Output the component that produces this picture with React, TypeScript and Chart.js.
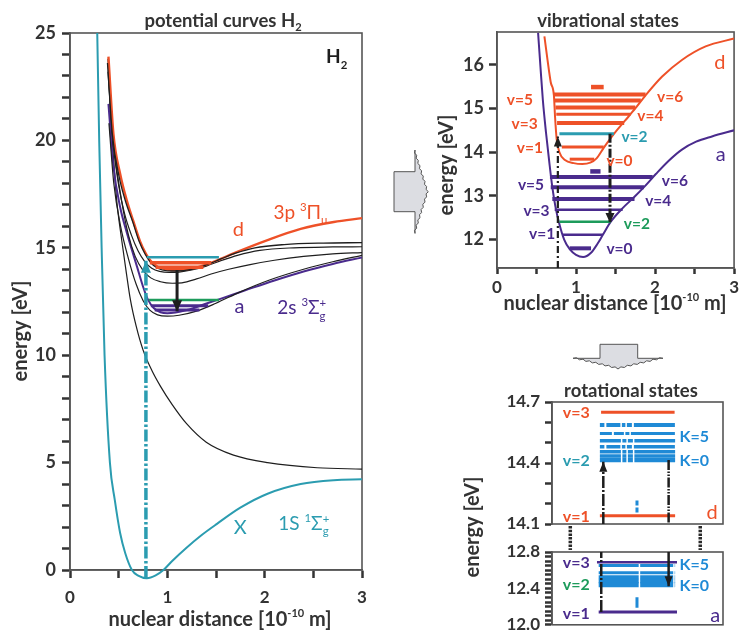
import { useEffect, useRef } from "react";
import { Chart, registerables } from "chart.js";

Chart.register(...registerables);

// ---------- colours & fonts ----------
const RED = "#ee5128";
const TEAL = "#2b9cb0";
const PURPLE = "#4a2b8d";
const GREEN = "#1d9b5b";
const BLUE = "#1f8ad6";
const INK = "#333333";
const BLACK = "#1e1e1e";
const FRAME = "#555555";
const FONT = "Lato, 'Open Sans', 'DejaVu Sans', sans-serif";

// ---------- potential curves H2 (r in 1e-10 m, energy in eV) ----------
const xStateR = [0.28, 0.3, 0.325, 0.355, 0.41, 0.46, 0.515, 0.567, 0.636, 0.7, 0.79, 0.88, 0.96, 1.05, 1.2, 1.35, 1.51, 1.75, 2.03, 2.37, 2.71, 3.0];
const xStateE = [25, 20, 15, 10, 5, 3.26, 1.72, 0.79, 0, -0.26, -0.38, -0.25, 0, 0.42, 1.05, 1.62, 2.15, 2.9, 3.55, 4.0, 4.18, 4.22];

const bStateR = [0.39, 0.42, 0.45, 0.48, 0.53, 0.58, 0.62, 0.68, 0.75, 0.84, 0.93, 1.05, 1.2, 1.4, 1.68, 2.03, 2.54, 3.0];
const bStateE = [23.8, 21.0, 19.0, 17.2, 15.4, 13.8, 12.6, 11.35, 10.25, 9.3, 8.55, 7.7, 6.8, 5.95, 5.35, 5.0, 4.76, 4.7];

const aStateR = [0.395, 0.446, 0.515, 0.584, 0.69, 0.75, 0.8, 0.86, 0.93, 1.0, 1.2, 1.41, 1.53, 1.8, 2.1, 2.4, 2.7, 3.0];
const aStateE = [21.7, 18.8, 16.9, 15.7, 14.1, 13.2, 12.6, 12.2, 12.0, 11.95, 12.1, 12.42, 12.6, 13.02, 13.48, 13.9, 14.25, 14.55];

const dStateR = [0.395, 0.446, 0.515, 0.584, 0.65, 0.72, 0.78, 0.83, 0.9, 1.0, 1.1, 1.25, 1.4, 1.53, 1.68, 2.03, 2.37, 2.71, 3.0];
const dStateE = [23.9, 20.3, 18.45, 17.2, 16.25, 15.3, 14.72, 14.38, 14.12, 13.99, 13.96, 14.03, 14.22, 14.45, 14.74, 15.36, 15.88, 16.2, 16.38];

const k1StateR = [0.385, 0.435, 0.505, 0.575, 0.645, 0.71, 0.77, 0.83, 0.9, 1.0, 1.1, 1.25, 1.4, 1.55, 1.7, 1.9, 2.2, 2.6, 3.0];
const k1StateE = [23.6, 20.3, 18.3, 17.1, 16.2, 15.3, 14.72, 14.3, 14.05, 13.93, 13.92, 14.0, 14.2, 14.48, 14.75, 15.0, 15.15, 15.22, 15.24];

const k2StateR = [0.39, 0.44, 0.5, 0.56, 0.63, 0.7, 0.77, 0.84, 0.92, 1.02, 1.12, 1.25, 1.4, 1.55, 1.72, 1.95, 2.3, 2.7, 3.0];
const k2StateE = [23.2, 20.0, 17.9, 16.6, 15.6, 14.85, 14.35, 14.05, 13.9, 13.85, 13.87, 13.97, 14.15, 14.4, 14.65, 14.88, 15.0, 15.04, 15.05];

const eStateR = [0.4, 0.45, 0.53, 0.6, 0.67, 0.75, 0.83, 0.93, 1.05, 1.15, 1.3, 1.45, 1.63, 1.85, 2.1, 2.4, 2.7, 3.0];
const eStateE = [23.0, 19.8, 17.2, 15.6, 14.6, 13.95, 13.6, 13.42, 13.35, 13.37, 13.55, 13.78, 14.0, 14.22, 14.42, 14.6, 14.72, 14.78];

const cStateR = [0.4, 0.45, 0.52, 0.6, 0.68, 0.75, 0.82, 0.9, 1.0, 1.12, 1.3, 1.5, 1.75, 2.05, 2.4, 2.7, 3.0];
const cStateE = [20.8, 18.0, 16.0, 14.5, 13.3, 12.55, 12.1, 11.88, 11.82, 11.86, 12.05, 12.42, 12.95, 13.5, 14.0, 14.35, 14.65];

// vibrational levels marked in the potential-curve panel
const potLevelE = [14.56, 14.3, 14.1, 12.57, 12.3, 12.1];
const potLevelR0 = [0.79, 0.82, 0.88, 0.81, 0.83, 0.87];
const potLevelR1 = [1.53, 1.45, 1.37, 1.53, 1.42, 1.33];
const potLevelColor = [TEAL, RED, RED, GREEN, PURPLE, PURPLE];
const potLevelWidth = [2.5, 3.5, 3.5, 2.5, 3, 3];

// excitation (X -> d) and decay (d -> a)
const excitationR = 0.78;
const excitationE = [-0.37, 14.4];
const decayR = 1.1;
const decayE = [13.97, 12.05];

// ---------- vibrational states ----------
const dVibR = [0.6, 0.64, 0.68, 0.72, 0.735, 0.755, 0.79, 0.86, 0.97, 1.08, 1.18, 1.26, 1.35, 1.48, 1.62, 1.75, 1.88, 2.09, 2.34, 2.64, 3.0];
const dVibE = [16.65, 16.1, 15.6, 15.3, 14.8, 14.3, 14.0, 13.82, 13.75, 13.73, 13.76, 13.86, 14.1, 14.42, 14.72, 15.0, 15.3, 15.73, 16.11, 16.42, 16.6];

const aVibR = [0.52, 0.55, 0.58, 0.62, 0.66, 0.7, 0.74, 0.79, 0.85, 0.92, 1.0, 1.09, 1.19, 1.27, 1.34, 1.44, 1.59, 1.74, 1.86, 2.01, 2.17, 2.34, 2.52, 2.72, 3.0];
const aVibE = [16.73, 15.95, 15.2, 14.45, 13.8, 13.2, 12.75, 12.35, 12.0, 11.78, 11.65, 11.6, 11.7, 11.9, 12.11, 12.41, 12.72, 12.98, 13.2, 13.5, 13.8, 14.06, 14.24, 14.36, 14.5];

const dLevelE = [13.84, 14.12, 14.42, 14.67, 14.87, 15.02, 15.18, 15.32, 15.49];
const dLevelR0 = [0.92, 0.82, 0.79, 0.76, 0.75, 0.74, 0.73, 0.71, 1.19];
const dLevelR1 = [1.23, 1.35, 1.48, 1.61, 1.69, 1.75, 1.82, 1.88, 1.35];
const dLevelWidth = [3, 3, 3, 4, 3, 4, 4, 4, 4.5];

const aLevelE = [11.8, 12.11, 12.41, 12.68, 12.93, 13.2, 13.43, 13.56];
const aLevelR0 = [0.92, 0.83, 0.79, 0.73, 0.7, 0.68, 0.67, 1.18];
const aLevelR1 = [1.19, 1.34, 1.44, 1.59, 1.74, 1.86, 1.97, 1.31];
const aLevelWidth = [4, 2.5, 2.5, 2.5, 4, 4, 4, 4.5];

const vibUpR = 0.77;
const vibUpE = [11.35, 14.36];
const vibDownR = 1.43;
const vibDownE = [14.42, 12.38];

// ---------- rotational states (u: schematic horizontal position 0..1) ----------
const dV3E = 14.65;
const dV1E = 14.14;
const dKE = [14.415, 14.435, 14.455, 14.48, 14.51, 14.545, 14.587];
const aV3E = 12.686;
const aV1E = 12.14;
const aKE = [12.44, 12.48, 12.523, 12.572, 12.653];
const rotLevelU = [0.28, 0.72];
const rotMarkU = 0.497;
const dMarkE = [14.157, 14.219];
const aMarkE = [12.187, 12.304];
const rotUpU = 0.3;
const rotDownU = 0.682;
const rotUpTipE = 14.406;
const rotDownTipE = 12.425;

// ---------- helpers ----------
type Pt = { x: number; y: number };
const zip = (r: number[], e: number[]): Pt[] => r.map((x, i) => ({ x, y: e[i] }));

function curve(r: number[], e: number[], color: string, width: number, extra: any = {}) {
  return {
    data: zip(r, e),
    showLine: true,
    borderColor: color,
    backgroundColor: color,
    borderWidth: width,
    pointRadius: 0,
    cubicInterpolationMode: "monotone",
    tension: 0.4,
    fill: false,
    ...extra,
  };
}

function seg(r0: number, r1: number, e0: number, e1: number, color: string, width: number, extra: any = {}) {
  return {
    data: [
      { x: r0, y: e0 },
      { x: r1, y: e1 },
    ],
    showLine: true,
    borderColor: color,
    backgroundColor: color,
    borderWidth: width,
    pointRadius: 0,
    tension: 0,
    fill: false,
    borderCapStyle: "butt",
    ...extra,
  };
}

type Run = { t: string; s?: number; dy?: number; stack?: boolean };
type TextItem = {
  runs: Run[];
  size: number;
  color: string;
  weight?: string;
  r?: number;
  e?: number;
  px?: number;
  py?: number;
  align?: "left" | "center" | "right";
  rotate?: number;
};

const sup = (t: string): Run => ({ t, s: 0.6, dy: -0.42 });
const sub = (t: string): Run => ({ t, s: 0.6, dy: 0.3 });
const distanceTitle: Run[] = [{ t: "nuclear distance [10" }, { t: "-10", s: 0.55, dy: -0.45 }, { t: " m]" }];

function drawRuns(ctx: CanvasRenderingContext2D, it: TextItem, x: number, y: number) {
  const { runs, size, color, weight = "normal", align = "center", rotate = 0 } = it;
  ctx.save();
  ctx.translate(x, y);
  if (rotate) ctx.rotate(rotate);
  ctx.fillStyle = color;
  ctx.textBaseline = "alphabetic";
  ctx.textAlign = "left";
  const fonts = runs.map((r) => `${weight} ${size * (r.s ?? 1)}px ${FONT}`);
  const widths = runs.map((r, i) => {
    ctx.font = fonts[i];
    return ctx.measureText(r.t).width;
  });
  const total = runs.reduce((acc, r, i) => acc + (r.stack ? 0 : widths[i]), 0);
  let cx = align === "center" ? -total / 2 : align === "right" ? -total : 0;
  runs.forEach((r, i) => {
    ctx.font = fonts[i];
    ctx.fillText(r.t, cx, size * 0.36 + (r.dy ?? 0) * size);
    if (!r.stack) cx += widths[i];
  });
  ctx.restore();
}

function textPlugin(items: TextItem[]) {
  return {
    id: "textItems",
    afterDraw(chart: any) {
      const { ctx, scales } = chart;
      items.forEach((it) => {
        const x = it.r !== undefined ? scales.x.getPixelForValue(it.r) : (it.px as number);
        const y = it.e !== undefined ? scales.y.getPixelForValue(it.e) : (it.py as number);
        drawRuns(ctx, it, x, y);
      });
    },
  };
}

const framePlugin = {
  id: "frame",
  beforeDatasetsDraw(chart: any) {
    const { ctx, chartArea: a } = chart;
    ctx.save();
    ctx.strokeStyle = FRAME;
    ctx.lineWidth = 1.6;
    ctx.strokeRect(a.left, a.top, a.right - a.left, a.bottom - a.top);
    ctx.restore();
  },
};

const arrowPlugin = {
  id: "arrowHeads",
  afterDatasetsDraw(chart: any) {
    const ctx = chart.ctx;
    chart.data.datasets.forEach((ds: any, i: number) => {
      if (!ds.arrowHead) return;
      const pts = chart.getDatasetMeta(i).data;
      const p1 = pts[pts.length - 1];
      const p0 = pts[pts.length - 2];
      const ang = Math.atan2(p1.y - p0.y, p1.x - p0.x);
      const L = ds.arrowHead.len;
      const W = ds.arrowHead.wid / 2;
      const bx = p1.x - L * Math.cos(ang);
      const by = p1.y - L * Math.sin(ang);
      ctx.save();
      ctx.fillStyle = ds.borderColor;
      ctx.beginPath();
      ctx.moveTo(p1.x, p1.y);
      ctx.lineTo(bx + W * Math.sin(ang), by - W * Math.cos(ang));
      ctx.lineTo(bx - W * Math.sin(ang), by + W * Math.cos(ang));
      ctx.closePath();
      ctx.fill();
      ctx.restore();
    });
  },
};

function yAxis(min: number, max: number, step: number, show: (v: number) => string, width: number, tickLen: number, size: number, pad: number) {
  return {
    type: "linear",
    position: "left",
    min,
    max,
    afterFit: (s: any) => {
      s.width = width;
    },
    grid: { drawOnChartArea: false, drawTicks: true, tickLength: tickLen, tickWidth: 2.5, tickColor: INK },
    border: { display: true, color: FRAME, width: 1.6 },
    ticks: {
      stepSize: step,
      includeBounds: false,
      autoSkip: false,
      maxTicksLimit: 1000,
      padding: pad,
      color: INK,
      font: { family: FONT, size, weight: "bold" },
      callback: (v: any) => show(Number(v)),
    },
  };
}

function xAxis(min: number, max: number, step: number, height: number, tickLen: number, size: number, pad: number) {
  return {
    type: "linear",
    position: "bottom",
    min,
    max,
    afterFit: (s: any) => {
      s.height = height;
    },
    grid: { drawOnChartArea: false, drawTicks: true, tickLength: tickLen, tickWidth: 2.5, tickColor: INK },
    border: { display: true, color: FRAME, width: 1.6 },
    ticks: {
      stepSize: step,
      includeBounds: false,
      autoSkip: false,
      maxRotation: 0,
      padding: pad,
      color: INK,
      font: { family: FONT, size, weight: "bold" },
      callback: (v: any) => (Number.isInteger(Number(v)) ? String(v) : ""),
    },
  };
}

function baseOptions(padding: any, scales: any) {
  return {
    animation: false,
    responsive: false,
    events: [],
    layout: { padding },
    plugins: { legend: { display: false }, tooltip: { enabled: false } },
    scales,
  };
}

// ---------- chart configurations ----------
function potentialConfig() {
  const levels = potLevelE.map((e, i) => seg(potLevelR0[i], potLevelR1[i], e, e, potLevelColor[i], potLevelWidth[i]));
  const datasets = [
    seg(excitationR, excitationR, excitationE[0], excitationE[1], TEAL, 3.5, {
      borderDash: [12, 2.5, 2.5, 2.5],
      clip: false,
      arrowHead: { len: 12, wid: 10 },
    }),
    seg(decayR, decayR, decayE[0], decayE[1], BLACK, 3, { arrowHead: { len: 11, wid: 10 } }),
    ...levels,
    curve(k1StateR, k1StateE, BLACK, 1.3),
    curve(dStateR, dStateE, RED, 2.4),
    curve(k2StateR, k2StateE, BLACK, 1.2),
    curve(eStateR, eStateE, BLACK, 1.2),
    curve(cStateR, cStateE, BLACK, 1.2),
    curve(aStateR, aStateE, PURPLE, 2),
    curve(bStateR, bStateE, BLACK, 1.2),
    curve(xStateR, xStateE, TEAL, 2, { clip: false, capBezierPoints: false }),
  ];
  const texts: TextItem[] = [
    { px: 223, py: 20, runs: [{ t: "potential curves H" }, { t: "2", s: 0.6, dy: 0.25 }], size: 18.5, weight: "bold", color: INK },
    { px: 220, py: 619, runs: distanceTitle, size: 20, weight: "bold", color: INK },
    { px: 20, py: 331, runs: [{ t: "energy [eV]" }], size: 20, weight: "bold", color: INK, rotate: -Math.PI / 2 },
    { r: 2.74, e: 23.9, runs: [{ t: "H" }, { t: "2", s: 0.6, dy: 0.3 }], size: 19, weight: "bold", color: BLACK },
    { r: 1.73, e: 15.87, runs: [{ t: "d" }], size: 20, color: RED },
    { r: 2.09, e: 16.67, runs: [{ t: "3p " }, sup("3"), { t: "Π" }, sub("u")], size: 19, color: RED, align: "left" },
    { r: 1.74, e: 12.29, runs: [{ t: "a" }], size: 20, color: PURPLE },
    { r: 2.13, e: 12.24, runs: [{ t: "2s " }, sup("3"), { t: "Σ" }, { ...sub("g"), stack: true }, { t: "+", s: 0.6, dy: -0.38 }], size: 19, color: PURPLE, align: "left" },
    { r: 1.75, e: 2.0, runs: [{ t: "X" }], size: 20, color: TEAL },
    { r: 2.14, e: 2.19, runs: [{ t: "1S " }, sup("1"), { t: "Σ" }, { ...sub("g"), stack: true }, { t: "+", s: 0.6, dy: -0.38 }], size: 19, color: TEAL, align: "left" },
  ];
  return {
    type: "scatter",
    data: { datasets },
    options: baseOptions(
      { top: 33, right: 18, bottom: 0, left: 0 },
      {
        x: xAxis(0, 3, 0.5, 70, 8, 17, 9),
        y: yAxis(0, 25, 1, (v) => (v % 5 === 0 ? String(v) : ""), 70, 8, 18, 6),
      }
    ),
    plugins: [framePlugin, arrowPlugin, textPlugin(texts)],
  };
}

function vibrationalConfig() {
  const dLevels = dLevelE.map((e, i) => seg(dLevelR0[i], dLevelR1[i], e, e, i === 2 ? TEAL : RED, dLevelWidth[i]));
  const aLevels = aLevelE.map((e, i) => seg(aLevelR0[i], aLevelR1[i], e, e, i === 2 ? GREEN : PURPLE, aLevelWidth[i]));
  const datasets = [
    seg(vibUpR, vibUpR, vibUpE[0], vibUpE[1], BLACK, 2.2, { borderDash: [7, 3, 2, 3], arrowHead: { len: 10, wid: 8 } }),
    seg(vibDownR, vibDownR, vibDownE[0], vibDownE[1], BLACK, 3, { borderDash: [9, 2, 2, 2], arrowHead: { len: 10, wid: 9 } }),
    ...dLevels,
    ...aLevels,
    curve(dVibR, dVibE, RED, 2),
    curve(aVibR, aVibE, PURPLE, 2),
  ];
  const lab = (t: string, r: number, e: number, color: string): TextItem => ({ r, e, runs: [{ t }], size: 15.5, weight: "bold", color });
  const texts: TextItem[] = [
    { px: 178, py: 20, runs: [{ t: "vibrational states" }], size: 18.5, weight: "bold", color: INK },
    { px: 185, py: 303, runs: distanceTitle, size: 20, weight: "bold", color: INK },
    { px: 16, py: 165, runs: [{ t: "energy [eV]" }], size: 20, weight: "bold", color: INK, rotate: -Math.PI / 2 },
    lab("v=5", 0.29, 15.2, RED),
    lab("v=3", 0.35, 14.65, RED),
    lab("v=1", 0.415, 14.12, RED),
    lab("v=6", 2.19, 15.27, RED),
    lab("v=4", 1.94, 14.85, RED),
    lab("v=2", 1.74, 14.35, TEAL),
    lab("v=0", 1.55, 13.82, RED),
    lab("v=5", 0.43, 13.27, PURPLE),
    lab("v=3", 0.5, 12.67, PURPLE),
    lab("v=1", 0.57, 12.14, PURPLE),
    lab("v=6", 2.25, 13.36, PURPLE),
    lab("v=4", 2.04, 12.9, PURPLE),
    lab("v=2", 1.77, 12.37, GREEN),
    lab("v=0", 1.55, 11.8, PURPLE),
    { r: 2.82, e: 16.07, runs: [{ t: "d" }], size: 20, color: RED },
    { r: 2.83, e: 13.96, runs: [{ t: "a" }], size: 20, color: PURPLE },
  ];
  return {
    type: "scatter",
    data: { datasets },
    options: baseOptions(
      { top: 32, right: 7, bottom: 0, left: 0 },
      {
        x: xAxis(0, 3, 0.5, 62, 6, 17, 3),
        y: yAxis(11.35, 16.75, 1, (v) => (Number.isInteger(v) ? String(v) : ""), 67, 8, 18, 5),
      }
    ),
    plugins: [framePlugin, arrowPlugin, textPlugin(texts)],
  };
}

const dKDash = [
  [21, 1.5, 4, 1.5, 5, 1.5, 41],
  [21, 1.5, 4, 1.5, 5, 1.5, 41],
  [21, 1.5, 4, 1.5, 5, 1.5, 41],
  [4.5, 2, 14, 1.5, 3.5, 1.5, 5, 2, 41],
  [21, 1.5, 4, 1.5, 5, 1.5, 41],
  [12, 2, 10, 1.5, 4, 1.5, 44],
  [4.5, 2, 14, 1.5, 3.5, 1.5, 5, 2, 41],
];
const dKWidth = [4.5, 3.5, 3.5, 3.5, 3.5, 3, 4];
const aKWidth = [5, 4.5, 4, 3, 3];

const breakPlugin = {
  id: "axisBreak",
  afterDraw(chart: any) {
    const { ctx, chartArea: a, scales } = chart;
    ctx.save();
    ctx.strokeStyle = "#2a2a2a";
    ctx.lineWidth = 3.5;
    ctx.setLineDash([2.5, 1.2]);
    [0.107, 0.867].forEach((u) => {
      const x = scales.x.getPixelForValue(u);
      ctx.beginPath();
      ctx.moveTo(x, a.bottom + 2);
      ctx.lineTo(x, a.bottom + 26);
      ctx.stroke();
    });
    ctx.restore();
  },
};

function rotUpperConfig() {
  const kLines = dKE.map((e, i) => seg(rotLevelU[0], rotLevelU[1], e, e, BLUE, dKWidth[i], { borderDash: dKDash[i] }));
  const datasets = [
    seg(rotUpU, rotUpU, 14.1, rotUpTipE, BLACK, 2.5, { borderDash: [12, 2, 2, 2], arrowHead: { len: 10, wid: 8 } }),
    seg(rotDownU, rotDownU, dKE[0], 14.1, BLACK, 2.5, { borderDash: [10, 1.5, 1.5, 1.5, 1.5, 1.5] }),
    seg(0.287, 0.717, dV3E, dV3E, RED, 3),
    ...kLines,
    seg(rotLevelU[0], rotLevelU[1], dV1E, dV1E, RED, 3),
    seg(rotMarkU, rotMarkU, dMarkE[0], dMarkE[1], BLUE, 3, { borderDash: [5, 2] }),
  ];
  const lab = (t: string, r: number, e: number, color: string): TextItem => ({ r, e, runs: [{ t }], size: 16, weight: "bold", color });
  const texts: TextItem[] = [
    { px: 201, py: 20, runs: [{ t: "rotational states" }], size: 18.5, weight: "bold", color: INK },
    { px: 42, py: 157, runs: [{ t: "energy [eV]" }], size: 20, weight: "bold", color: INK, rotate: -Math.PI / 2 },
    lab("v=3", 0.142, 14.65, RED),
    lab("v=2", 0.142, 14.415, TEAL),
    lab("v=1", 0.142, 14.137, RED),
    lab("K=5", 0.832, 14.532, BLUE),
    lab("K=0", 0.832, 14.415, BLUE),
    { r: 0.936, e: 14.162, runs: [{ t: "d" }], size: 20, color: RED },
  ];
  return {
    type: "scatter",
    data: { datasets },
    options: baseOptions(
      { top: 32, right: 19, bottom: 116, left: 0 },
      {
        x: { type: "linear", display: false, min: 0, max: 1 },
        y: yAxis(
          14.1,
          14.7,
          0.1,
          (v) => {
            const k = Math.round(v * 10);
            return Math.abs(v * 10 - k) < 1e-6 && (k - 141) % 3 === 0 ? (k / 10).toFixed(1) : "";
          },
          122,
          7,
          17,
          5
        ),
      }
    ),
    plugins: [framePlugin, arrowPlugin, breakPlugin, textPlugin(texts)],
  };
}

function rotLowerConfig() {
  const kLines = aKE.map((e, i) => seg(0.273, rotLevelU[1], e, e, BLUE, aKWidth[i], { borderDash: [40, 1.5, 33, 1.5, 2] }));
  const datasets = [
    seg(0.288, 0.288, aV1E, 12.8, BLACK, 2.5, { borderDash: [12, 2, 2, 2] }),
    seg(rotDownU, rotDownU, 12.8, rotDownTipE, BLACK, 2.5, { arrowHead: { len: 10, wid: 8 } }),
    seg(0.263, 0.731, aV3E, aV3E, PURPLE, 2.5),
    ...kLines,
    seg(0.273, 0.731, aV1E, aV1E, PURPLE, 3),
    seg(rotMarkU, rotMarkU, aMarkE[0], aMarkE[1], BLUE, 3),
  ];
  const lab = (t: string, r: number, e: number, color: string): TextItem => ({ r, e, runs: [{ t }], size: 16, weight: "bold", color });
  const texts: TextItem[] = [
    lab("v=3", 0.142, 12.686, PURPLE),
    lab("v=2", 0.142, 12.447, GREEN),
    lab("v=1", 0.142, 12.131, PURPLE),
    lab("K=5", 0.832, 12.663, BLUE),
    lab("K=0", 0.832, 12.435, BLUE),
    { r: 0.955, e: 12.115, runs: [{ t: "a" }], size: 20, color: PURPLE },
  ];
  return {
    type: "scatter",
    data: { datasets },
    options: baseOptions(
      { top: 22, right: 19, bottom: 7, left: 0 },
      {
        x: { type: "linear", display: false, min: 0, max: 1 },
        y: yAxis(
          12.0,
          12.8,
          0.05,
          (v) => {
            const k = Math.round(v * 100);
            return k % 40 === 0 ? (k / 100).toFixed(1) : "";
          },
          122,
          7,
          17,
          5
        ),
      }
    ),
    plugins: [framePlugin, arrowPlugin, textPlugin(texts)],
  };
}

// ---------- components ----------
function ChartBox(props: { left: number; top: number; width: number; height: number; make: () => any }) {
  const { left, top, width, height, make } = props;
  const ref = useRef<HTMLCanvasElement>(null);
  useEffect(() => {
    const chart = new Chart(ref.current as HTMLCanvasElement, make());
    return () => chart.destroy();
  }, []);
  return <canvas ref={ref} width={width} height={height} style={{ position: "absolute", left, top, width, height }} />;
}

// jagged edge between two corners of a block arrow head
function jagged(x0: number, y0: number, x1: number, y1: number, n: number): string {
  const out: string[] = [];
  for (let i = 1; i <= n; i++) {
    const xa = x0 + ((x1 - x0) * (i - 0.5)) / n;
    const ya = y0 + ((y1 - y0) * (i - 0.5)) / n;
    const xb = x0 + ((x1 - x0) * i) / n;
    const yb = y0 + ((y1 - y0) * i) / n;
    const len = Math.hypot(x1 - x0, y1 - y0);
    const nx = -(y1 - y0) / len;
    const ny = (x1 - x0) / len;
    out.push(`${(xa + nx * 1.4).toFixed(1)},${(ya + ny * 1.4).toFixed(1)}`, `${xb.toFixed(1)},${yb.toFixed(1)}`);
  }
  return out.join(" ");
}

function BlockArrows() {
  const right = [
    "394,171.7",
    "415,171.7",
    "415,150",
    jagged(415, 150, 428.3, 191.7, 8),
    jagged(428.3, 191.7, 415, 233.4, 8),
    "415,211.7",
    "394,211.7",
  ].join(" ");
  const down = [
    "600,344.3",
    "637.7,344.3",
    "637.7,358.3",
    "663,358.3",
    jagged(663, 358.3, 618, 369, 7),
    jagged(618, 369, 573, 358.3, 7),
    "600,358.3",
  ].join(" ");
  return (
    <svg width={742} height={640} style={{ position: "absolute", left: 0, top: 0, pointerEvents: "none" }}>
      <polygon points={right} fill="#dcdde2" stroke="#555" strokeWidth={1} />
      <polygon points={down} fill="#dcdde2" stroke="#555" strokeWidth={1} />
    </svg>
  );
}

export default function App() {
  return (
    <div style={{ position: "absolute", left: 0, top: 0, width: 742, height: 640, background: "#ffffff", overflow: "hidden" }}>
      <ChartBox left={0} top={0} width={380} height={640} make={potentialConfig} />
      <ChartBox left={430} top={0} width={312} height={330} make={vibrationalConfig} />
      <ChartBox left={430} top={370} width={312} height={270} make={rotUpperConfig} />
      <ChartBox left={430} top={530} width={312} height={110} make={rotLowerConfig} />
      <BlockArrows />
    </div>
  );
}
